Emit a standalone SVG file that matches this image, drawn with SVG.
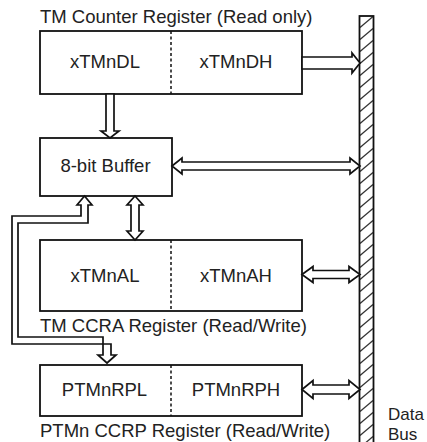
<svg xmlns="http://www.w3.org/2000/svg" width="427" height="442" viewBox="0 0 427 442">
<defs>
<style>
.box{fill:#fff;stroke:#111;stroke-width:1.8}
.div{stroke:#111;stroke-width:1.5;stroke-dasharray:3 2.5;fill:none}
.arr{fill:#fff;stroke:#111;stroke-width:1.7;stroke-linejoin:miter}
.t{font-family:"Liberation Sans",Arial,sans-serif;font-size:18.5px;fill:#222}
.c{text-anchor:middle}
.bl{font-size:17px}
</style>
<pattern id="hatch" patternUnits="userSpaceOnUse" x="359" y="16" width="15" height="12">
<line x1="1" y1="11.5" x2="14" y2="0.5" stroke="#333" stroke-width="1.3"/>
</pattern>
</defs>
<rect width="427" height="442" fill="#fff"/>
<g id="bus">
<rect x="359.5" y="16" width="14" height="430" fill="url(#hatch)" stroke="#111" stroke-width="1.8"/>
<text class="t bl" x="388" y="420">Data</text>
<text class="t bl" x="388" y="439.5">Bus</text>
</g>
<g id="counter">
<text class="t" x="40" y="23">TM Counter Register (Read only)</text>
<rect class="box" x="40" y="31" width="262" height="63"/>
<line class="div" x1="171" y1="31" x2="171" y2="94"/>
<text class="t c" x="105" y="68">xTMnDL</text>
<text class="t c" x="236" y="68">xTMnDH</text>
</g>
<g id="buffer">
<rect class="box" x="40" y="138" width="132" height="58"/>
<text class="t c" x="105.5" y="172">8-bit Buffer</text>
</g>
<g id="ccra">
<rect class="box" x="40" y="240" width="262" height="71"/>
<line class="div" x1="171" y1="240" x2="171" y2="311"/>
<text class="t c" x="105" y="282">xTMnAL</text>
<text class="t c" x="236" y="282">xTMnAH</text>
<text class="t" x="40" y="332">TM CCRA Register (Read/Write)</text>
</g>
<g id="ccrp">
<rect class="box" x="40" y="365" width="262" height="51"/>
<line class="div" x1="171" y1="365" x2="171" y2="416"/>
<text class="t c" x="104.5" y="396">PTMnRPL</text>
<text class="t c" x="236" y="396">PTMnRPH</text>
<text class="t" x="40" y="437">PTMn CCRP Register (Read/Write)</text>
</g>
<g id="connectors">
<polygon class="arr" points="106,94 106,131 101,131 110,138 119,131 114,131 114,94"/>
<polygon class="arr" points="302,57 352,57 352,53 360,63 352,73 352,69 302,69"/>
<polygon class="arr" points="172,166 182,158 182,162 350,162 350,158 360,166 350,174 350,170 182,170 182,174"/>
<polygon class="arr" points="135,196 143,205 139,205 139,231 143,231 135,240 127,231 131,231 131,205 127,205"/>
<polygon class="arr" points="302,274.5 313,266.5 313,270.5 349,270.5 349,266.5 360,274.5 349,282.5 349,278.5 313,278.5 313,282.5"/>
<polygon class="arr" points="302,389.5 313,380.5 313,385 349,385 349,380.5 360,389.5 349,398.5 349,394 313,394 313,398.5"/>
<polygon class="arr" points="84.5,196 92,205 88,205 88,223 18,223 18,337 103,337 103,355 98,355 107,363 116,355 111,355 111,344 12,344 12,216 81,216 81,205 77,205"/>
</g>
</svg>
